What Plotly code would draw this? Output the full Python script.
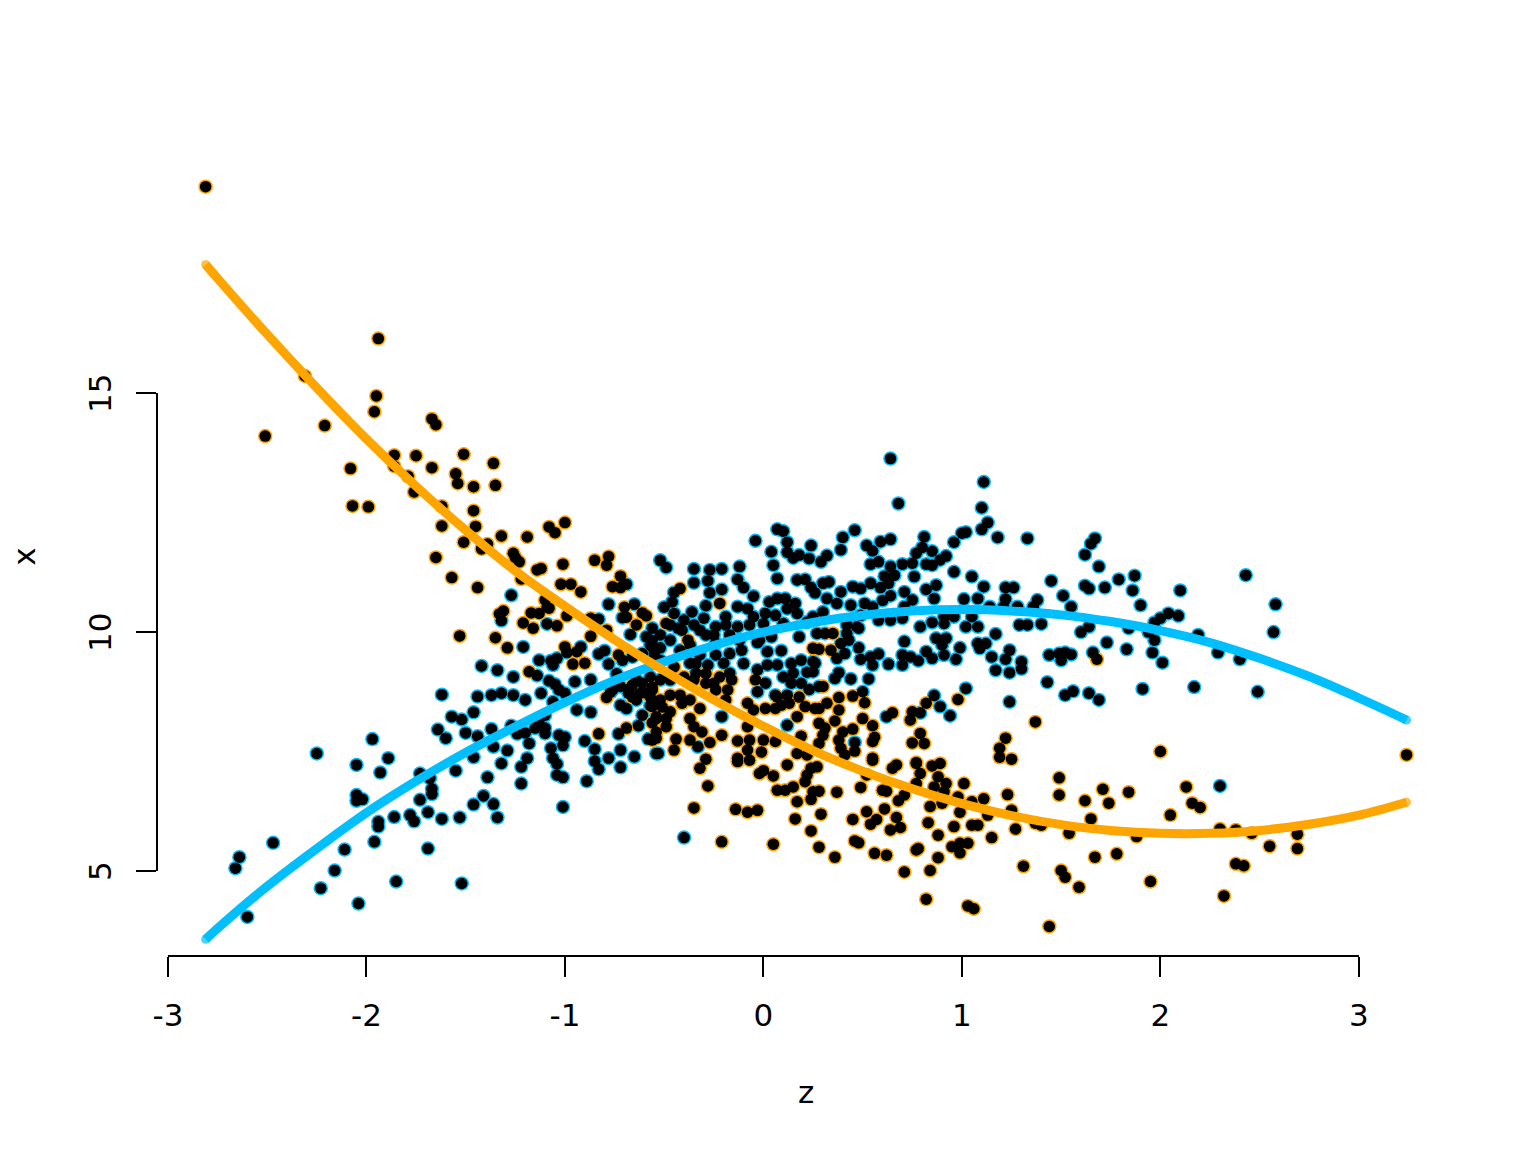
import plotly.graph_objects as go

# (z, x)
orange_pts = [
    (-2.81,19.32),(-1.94,16.14),(-2.31,15.36),(-1.95,14.94),(-1.96,14.61),(-2.51,14.10),(-2.21,14.32),(-1.67,14.46),
    (-1.65,14.34),(-1.86,13.70),(-1.75,13.69),(-1.51,13.72),(-1.86,13.47),(-1.67,13.44),(-2.08,13.42),(-1.36,13.53),
    (-1.55,13.31),(-1.54,13.11),(-1.79,13.26),(-1.46,13.04),(-1.35,13.07),(-1.76,12.93),(-2.07,12.64),(-1.99,12.62),
    (-1.62,12.63),(-1.46,12.54),(-1.62,12.22),(-1.45,12.21),(-1.32,12.01),(-1.19,11.99),(-1.51,11.88),(-1.42,11.74),
    (-1.39,11.84),(-1.65,11.56),(-1.26,11.65),(-1.25,11.56),(-1.23,11.47),(-1.08,12.20),(-1.05,12.08),(-1.00,12.29),
    (-1.57,11.14),(-1.44,10.93),(-1.22,11.11),(-1.14,11.30),(-1.12,11.33),(-1.01,11.42),(-0.85,11.50),(-0.79,11.40),
    (-0.78,11.58),(-1.02,11.00),(-0.97,11.00),(-0.92,10.84),(-0.76,10.95),(-0.72,11.17),(-0.72,10.93),(-1.10,10.67),
    (-1.09,10.52),(-1.08,10.50),(-1.17,10.40),(-1.13,10.39),(-0.99,10.34),(-0.87,10.29),(-0.70,10.52),(-0.61,10.40),
    (-0.59,10.34),(-0.69,10.31),(-0.64,10.15),(-1.31,10.44),(-1.33,10.38),(-1.21,10.19),(-1.16,10.08),(-1.04,10.13),
    (-1.53,9.92),(-1.35,9.88),(-1.29,9.67),(-0.87,9.91),(-0.79,10.04),(-1.00,9.69),(-0.94,9.59),(-0.96,9.33),
    (-0.90,9.35),(-0.73,9.52),(-1.18,9.17),(-0.79,8.63),(-0.83,7.87),(-0.69,7.99),(-0.54,7.78),(-0.42,10.91),
    (-0.22,10.60),(-0.49,10.18),(-0.38,9.83),(0.25,9.66),(-0.45,9.27),(-0.35,9.00),(-0.40,9.06),(-0.29,9.13),
    (-0.22,9.06),(-0.16,9.00),(-0.04,9.00),(-0.29,8.93),(-0.24,8.79),(-0.19,8.58),(-0.08,8.51),(-0.05,8.37),
    (0.01,8.40),(0.06,8.40),(0.09,8.47),(0.21,8.44),(0.26,8.40),(0.28,8.40),(0.17,8.23),(-0.32,8.40),
    (-0.37,8.58),(-0.42,8.68),(-0.47,8.68),(-0.52,8.58),(-0.56,8.44),(-0.47,8.33),(-0.37,8.19),(-0.35,8.02),
    (-0.49,8.19),(-0.54,8.19),(-0.49,8.02),(-0.54,7.91),(-0.56,7.74),(-0.44,7.76),(-0.45,7.53),(-0.31,7.91),
    (-0.37,7.74),(-0.27,7.69),(-0.21,7.84),(-0.08,8.02),(0.19,7.82),(-0.13,7.72),(-0.07,7.74),(0.00,7.74),
    (0.06,7.71),(-0.01,7.49),(-0.08,7.53),(-0.13,7.36),(-0.07,7.32),(-0.29,7.34),(0.12,7.22),(-0.32,7.15),
    (0.17,7.46),(0.22,7.43),(0.27,7.18),(-0.28,6.78),(-0.35,6.32),(-0.21,5.61),(-0.14,6.29),(-0.08,6.23),
    (-0.03,6.27),(-0.13,7.29),(-0.02,7.04),(0.00,7.10),(0.05,6.99),(0.07,6.69),(0.11,6.69),(0.15,6.76),
    (0.17,6.45),(0.16,6.09),(0.05,5.56),(0.24,5.84),(0.29,6.19),(0.24,6.50),(0.25,6.66),(0.28,6.67),
    (0.21,6.87),(0.22,7.01),(0.24,7.15),(0.37,6.65),(0.28,5.50),(0.36,5.29),(0.45,6.08),(0.46,5.63),
    (0.48,5.59),(0.56,5.37),(0.62,5.33),(0.52,6.24),(0.54,5.98),(0.57,6.08),(0.61,6.30),(0.67,6.12),
    (0.64,5.86),(0.69,5.91),(0.71,4.98),(0.49,6.75),(0.60,6.69),(0.62,6.67),(0.68,6.47),(0.71,6.59),
    (0.52,7.01),(0.65,7.15),(0.67,7.22),(0.77,5.44),(0.55,7.32),(0.77,6.83),(0.77,7.25),(0.28,9.64),
    (0.34,9.62),(0.35,9.97),(0.30,8.86),(0.45,8.66),(0.51,8.52),(0.38,8.63),(0.32,8.51),(0.38,8.37),
    (0.50,8.19),(0.55,8.04),(0.45,7.97),(0.36,8.14),(0.28,8.09),(0.31,7.99),(0.40,7.91),(0.38,7.74),
    (0.30,7.84),(0.28,7.67),(0.56,7.80),(0.55,7.71),(0.39,7.57),(0.46,7.51),(0.41,7.43),(0.55,7.36),
    (0.75,7.68),(0.79,7.88),(0.81,7.67),(0.77,7.27),(0.79,7.04),(0.85,7.20),(0.89,7.25),(0.88,6.97),
    (0.92,6.83),(1.01,6.83),(0.86,6.76),(1.22,7.78),(1.19,7.57),(1.19,7.38),(1.25,7.34),(1.37,8.12),
    (0.98,8.59),(0.82,8.51),(0.75,8.33),(0.74,8.16),(0.65,8.31),(1.49,6.95),(1.49,6.59),(1.71,6.71),
    (1.74,6.42),(1.62,6.47),(1.84,6.65),(2.13,6.76),(2.16,6.42),(2.20,6.33),(2.05,6.17),(1.65,6.09),
    (1.23,6.60),(1.11,6.51),(1.05,6.45),(1.25,6.27),(1.13,6.17),(0.99,6.23),(0.98,6.55),(0.90,6.42),
    (0.84,6.35),(0.91,6.66),(0.83,6.01),(0.96,5.93),(0.88,5.75),(1.05,5.96),(1.08,5.96),(1.15,5.70),
    (1.27,5.88),(1.37,6.00),(1.40,5.96),(1.54,5.79),(1.88,5.72),(2.30,5.88),(2.38,5.86),(2.46,5.79),
    (2.69,5.77),(2.69,5.47),(2.55,5.52),(2.38,5.15),(2.42,5.11),(2.32,4.48),(1.95,4.78),(1.78,5.36),
    (1.67,5.29),(1.59,4.66),(1.50,5.01),(1.52,4.87),(1.44,3.84),(1.31,5.10),(1.03,4.27),(1.06,4.21),
    (0.82,4.41),(0.84,5.01),(0.88,5.28),(0.78,5.47),(0.99,5.38),(0.95,5.51),(0.99,5.58),(1.03,5.58),
    (1.68,9.43),(2.00,7.50),(3.24,7.43),
    # dense middle
    (-0.25,8.93),(-0.18,8.79),(-0.56,8.79),(-0.41,8.51),(-0.51,8.43),(-0.56,8.10),(0.07,8.64),(0.13,8.51),
    (0.18,8.64),(-0.62,8.72),(-0.66,8.64),(-0.57,8.64),(-0.56,8.85),(-0.66,8.89),
]

blue_pts = [
    (-0.69,11.00),(-1.27,10.77),(-0.78,10.58),(-0.65,10.58),(-0.83,10.27),(-0.71,10.30),(-0.67,9.95),(-1.32,10.24),
    (-1.09,10.17),(-1.21,9.69),(-0.99,9.57),(-0.92,9.69),(-0.83,9.54),(-0.80,9.61),(-1.13,9.41),(-1.07,9.40),
    (-1.04,9.45),(-1.06,9.31),(-0.78,9.33),(-1.42,9.29),(-1.34,9.20),(-1.26,9.06),(-1.14,9.09),(-0.95,8.96),
    (-1.08,8.98),(-1.05,8.91),(-1.03,8.79),(-1.00,8.72),(-0.87,9.00),(-1.62,8.69),(-1.44,8.65),(-1.37,8.68),
    (-1.32,8.72),(-1.26,8.68),(-1.20,8.58),(-1.12,8.72),(-1.06,8.54),(-0.94,8.37),(-0.87,8.32),(-1.46,8.32),
    (-1.57,8.23),(-1.52,8.17),(-1.64,7.96),(-1.60,7.78),(-1.50,7.89),(-1.44,7.82),(-1.37,7.97),(-1.27,8.04),
    (-1.24,7.87),(-1.20,7.89),(-1.15,7.99),(-1.13,8.09),(-1.10,8.26),(-1.10,7.99),(-1.10,7.88),(-1.18,7.67),
    (-1.36,7.60),(-1.29,7.52),(-1.46,7.38),(-1.32,7.25),(-1.19,7.36),(-1.22,7.18),(-1.55,7.10),(-1.39,6.96),
    (-1.22,6.83),(-1.41,6.57),(-1.46,6.39),(-1.36,6.40),(-1.34,6.12),(-1.62,6.09),(-1.53,6.12),(-1.01,6.34),
    (-0.89,6.88),(-1.04,7.01),(-1.01,6.96),(-1.06,7.36),(-1.04,7.24),(-1.07,7.57),(-1.03,7.84),(-1.00,7.80),
    (-1.01,7.63),(-0.90,7.72),(-0.85,7.55),(-0.85,7.30),(-0.83,7.13),(-0.78,7.36),(-0.72,7.53),(-0.72,7.17),
    (-0.65,7.39),(-0.73,7.87),(-0.63,8.04),(-0.58,7.76),(-0.54,7.46),(-0.72,8.47),(-0.69,8.40),(-0.64,8.58),
    (-0.68,8.72),(-0.61,8.26),(-0.57,8.46),(-0.54,8.23),(-0.59,8.72),(-0.61,8.93),(-0.57,9.06),(-0.64,9.00),
    (-0.67,8.83),(-0.76,8.79),(-0.72,8.86),(-0.74,9.13),(-2.60,4.04),(-2.66,5.06),(-2.64,5.29),(-2.47,5.59),
    (-2.25,7.46),(-2.23,4.64),(-2.16,5.01),(-2.11,5.45),(-2.04,4.32),(-2.05,7.22),(-1.97,7.76),(-1.89,7.36),
    (-1.93,7.06),(-2.05,6.59),(-2.05,6.47),(-2.02,6.50),(-1.94,6.03),(-1.94,5.93),(-1.96,5.61),(-1.85,4.78),
    (-1.52,4.74),(-1.69,5.47),(-1.86,6.13),(-1.78,6.17),(-1.76,6.04),(-1.69,6.23),(-1.73,6.49),(-1.67,6.72),
    (-1.67,6.61),(-1.73,7.04),(-1.68,6.94),(-0.52,11.50),(-0.49,11.35),(-0.35,11.32),(-0.27,11.30),(-0.21,11.32),
    (-0.12,11.37),(-0.04,11.91),(0.07,12.15),(0.10,12.11),(0.12,11.88),(0.04,11.68),(0.24,11.81),(0.12,11.67),
    (0.15,11.55),(0.18,11.61),(0.23,11.54),(0.05,11.40),(0.07,11.12),(0.17,11.09),(0.21,11.10),(0.24,10.93),
    (0.26,10.82),(-0.35,11.03),(-0.28,11.07),(-0.27,10.82),(-0.21,10.89),(-0.13,11.10),(-0.10,10.93),(-0.05,10.75),
    (-0.45,10.83),(-0.46,10.63),(-0.50,10.52),(-0.36,10.42),(-0.29,10.55),(-0.13,10.53),(-0.08,10.49),(0.03,10.63),
    (0.07,10.70),(0.11,10.70),(0.16,10.60),(0.01,10.39),(0.06,10.35),(0.12,10.49),(0.17,10.39),(-0.40,10.25),
    (-0.45,10.39),(-0.30,10.29),(-0.19,10.32),(-0.05,10.32),(-0.56,10.08),(-0.43,10.08),(-0.32,10.04),(-0.24,10.11),
    (-0.13,10.11),(0.00,10.18),(0.10,10.18),(0.22,10.21),(-0.52,9.94),(-0.47,9.83),(-0.56,9.83),(-0.25,9.94),
    (-0.17,9.94),(-0.03,9.78),(0.04,9.90),(0.18,9.90),(0.02,9.59),(0.09,9.61),(0.19,9.41),(0.25,9.38),
    (0.14,9.34),(0.02,9.31),(0.07,9.31),(-0.11,9.62),(-0.10,9.34),(-0.03,9.21),(-0.34,9.34),(-0.24,9.52),
    (-0.17,9.55),(-0.55,9.55),(0.10,9.06),(0.14,8.93),(0.23,8.80),(0.19,8.93),(0.01,8.93),(-0.03,8.75),
    (0.06,8.68),(0.12,8.68),(0.28,8.86),(-0.21,8.23),(0.12,8.05),(-0.53,7.46),(-0.33,7.60),(-0.40,5.70),
    (0.64,13.63),(0.68,12.69),(1.11,13.14),(1.10,12.60),(1.13,12.29),(1.10,12.15),(1.02,12.09),(1.00,12.07),
    (1.18,11.98),(1.33,11.96),(0.96,11.88),(0.81,11.99),(0.64,11.94),(0.59,11.89),(0.46,12.13),(0.40,11.98),
    (0.39,11.72),(0.32,11.60),(0.29,11.47),(0.52,11.81),(0.55,11.70),(0.80,11.77),(0.77,11.65),(0.85,11.69),
    (0.54,11.42),(0.58,11.47),(0.64,11.37),(0.70,11.42),(0.75,11.44),(0.82,11.42),(0.85,11.40),(0.92,11.59),
    (0.89,11.51),(0.96,11.26),(1.05,11.16),(0.76,11.16),(0.61,11.17),(0.66,11.19),(0.63,11.02),(0.54,11.02),
    (1.11,10.95),(1.22,10.93),(1.26,10.93),(0.82,10.89),(0.87,10.98),(0.86,10.70),(0.71,10.84),(0.75,10.67),
    (0.64,10.76),(0.60,10.66),(0.59,10.93),(1.01,10.69),(1.08,10.70),(1.22,10.69),(1.38,10.67),(1.14,10.53),
    (1.28,10.53),(1.36,10.53),(1.21,10.53),(0.45,10.95),(0.49,10.91),(0.33,11.05),(0.30,11.02),(0.39,10.84),
    (0.32,10.70),(0.44,10.56),(0.37,10.60),(0.51,10.60),(0.55,10.53),(0.30,10.42),(0.71,10.53),(0.25,10.32),
    (0.49,10.35),(0.58,10.25),(0.64,10.25),(0.70,10.29),(0.91,10.32),(0.96,10.32),(1.05,10.32),(0.42,10.15),
    (0.47,10.11),(0.79,10.11),(0.85,10.20),(0.91,10.18),(1.02,10.11),(1.08,10.11),(1.29,10.15),(1.33,10.15),
    (0.27,9.97),(0.31,9.97),(0.42,9.97),(0.48,10.08),(0.37,9.45),(0.41,9.55),(0.39,9.76),(0.43,9.83),
    (0.48,9.67),(0.49,9.43),(0.54,9.48),(0.58,9.54),(0.55,9.31),(0.63,9.33),(0.71,9.80),(0.70,9.52),
    (0.70,9.31),(0.74,9.48),(0.78,9.40),(0.82,9.59),(0.85,9.45),(0.87,9.87),(0.92,9.87),(0.90,9.73),
    (0.91,9.52),(0.97,9.43),(0.99,9.67),(1.08,9.76),(1.09,9.66),(1.12,9.76),(1.17,9.96),(1.15,9.48),
    (1.24,9.62),(1.22,9.43),(1.17,9.20),(1.24,9.15),(1.30,9.38),(1.30,9.23),(0.26,9.35),(0.25,9.17),
    (0.38,9.15),(0.36,9.03),(0.44,9.02),(0.53,9.02),(0.50,8.75),(0.46,7.69),(1.02,8.82),(0.86,8.67),
    (0.89,8.44),(0.94,8.25),(0.79,8.31),(0.62,8.23),(1.24,8.54),(2.30,6.78),(1.67,11.96),(1.65,11.85),
    (1.62,11.62),(1.69,11.37),(1.45,11.07),(1.62,10.97),(1.64,10.91),(1.72,10.93),(1.79,11.10),(1.87,11.18),
    (1.86,10.87),(1.90,10.56),(2.10,10.87),(2.43,11.19),(2.58,10.58),(2.57,10.00),(1.51,10.76),(1.55,10.53),
    (1.40,10.17),(1.64,10.11),(1.60,10.00),(1.73,9.78),(1.84,10.08),(1.94,10.00),(1.97,10.20),(2.00,10.29),
    (2.04,10.39),(2.09,10.34),(1.97,9.83),(1.96,9.57),(2.01,9.36),(1.83,9.64),(2.19,9.94),(2.29,9.57),
    (2.40,9.43),(2.17,8.85),(2.49,8.75),(1.91,8.81),(1.66,9.57),(1.44,9.52),(1.49,9.55),(1.52,9.57),
    (1.55,9.53),(1.50,9.41),(1.43,8.95),(1.52,8.68),(1.56,8.76),(1.64,8.72),(1.69,8.58),
    # dense middle
    (-0.41,10.04),(-0.35,10.15),(-0.29,9.94),(-0.24,9.77),(-0.19,10.15),(-0.12,9.83),(-0.07,10.15),(-0.02,9.83),
    (-0.37,9.73),(-0.32,9.52),(-0.47,10.15),(-0.52,9.67),(-0.57,9.73),(-0.42,9.62),(-0.37,9.35),(-0.28,9.31),
    (-0.20,9.35),(-0.17,9.14),(-0.52,9.41),(-0.52,9.00),(-0.47,9.00),(-0.34,9.14),(0.15,9.14),(0.22,9.16),
    (-0.59,9.90),(-0.56,9.69),(-0.61,9.55),(-0.66,9.48),(-0.71,9.41),(-0.56,9.41),(-0.77,8.74),
]

blue_curve_z = [-2.81,-2.75,-2.5,-2.25,-2.0,-1.75,-1.5,-1.25,-1.0,-0.75,-0.5,-0.25,0,0.25,0.5,0.75,1.0,1.25,1.5,1.75,2.0,2.25,2.5,2.75,3.0,3.24]
blue_curve_x = [3.57,3.80,4.68,5.47,6.22,6.88,7.48,8.02,8.53,8.99,9.38,9.72,10.00,10.20,10.35,10.44,10.47,10.44,10.36,10.22,10.03,9.78,9.45,9.07,8.62,8.16]
orange_curve_z = [-2.81,-2.75,-2.5,-2.25,-2.0,-1.75,-1.5,-1.25,-1.0,-0.75,-0.5,-0.25,0,0.25,0.5,0.75,1.0,1.25,1.5,1.75,2.0,2.25,2.5,2.75,3.0,3.24]
orange_curve_x = [17.69,17.40,16.23,15.11,14.04,13.05,12.13,11.28,10.54,9.84,9.19,8.58,8.03,7.52,7.09,6.72,6.41,6.16,5.97,5.85,5.79,5.79,5.85,5.98,6.17,6.44]

x_ticks = [-3,-2,-1,0,1,2,3]
x_tick_text = ["-3","-2","-1","0","1","2","3"]
y_ticks = [5,10,15]

BLUE = "#00BFFF"
ORANGE = "#FFA500"
FONT = "DejaVu Sans"

fig = go.Figure()

# colored dots first, black ones over the top of both groups
for pts, color in [(blue_pts, BLUE), (orange_pts, ORANGE)]:
    fig.add_trace(go.Scatter(
        x=[p[0] for p in pts], y=[p[1] for p in pts], mode="markers",
        marker=dict(size=14.5, color=color, line=dict(width=0)), showlegend=False
    ))
all_pts = blue_pts + orange_pts
fig.add_trace(go.Scatter(
    x=[p[0] for p in all_pts], y=[p[1] for p in all_pts], mode="markers",
    marker=dict(size=11.5, color="black", line=dict(width=0)), showlegend=False
))

for cz, cx, color in [(blue_curve_z, blue_curve_x, BLUE), (orange_curve_z, orange_curve_x, ORANGE)]:
    ends = [9 if i in (0, len(cz) - 1) else 0 for i in range(len(cz))]
    fig.add_trace(go.Scatter(
        x=cz, y=cx, mode="lines+markers",
        line=dict(color=color, width=9, shape="spline", smoothing=1.0),
        marker=dict(size=ends, color=color, line=dict(width=0)), showlegend=False
    ))

y_labels = [dict(text=str(v), xref="paper", yref="y", x=-0.044, y=v, showarrow=False, textangle=-90, xanchor="center")
            for v in y_ticks]

fig.update_layout(
    width=1536, height=1152,
    margin=dict(l=157, r=81, t=157, b=196, autoexpand=False),
    paper_bgcolor="white", plot_bgcolor="white",
    font=dict(family=FONT, size=31, color="black"),
    xaxis=dict(
        range=[-3.055, 3.484], tickvals=x_ticks, ticktext=x_tick_text, ticks="outside", ticklen=20, tickwidth=2,
        tickcolor="black", showgrid=False, zeroline=False, showline=False, ticklabelstandoff=12
    ),
    yaxis=dict(
        range=[3.222, 19.94], tickvals=y_ticks, ticks="outside", ticklen=20, tickwidth=2,
        tickcolor="black", showgrid=False, zeroline=False, showline=False, showticklabels=False
    ),
    shapes=[
        dict(type="line", xref="x", yref="paper", x0=-3, x1=3, y0=0, y1=0, line=dict(color="black", width=2)),
        dict(type="line", xref="paper", yref="y", x0=0, x1=0, y0=5, y1=15, line=dict(color="black", width=2)),
    ],
    annotations=y_labels + [
        dict(text="z", xref="paper", yref="paper", x=0.5, y=-0.17, showarrow=False, yanchor="middle"),
        dict(text="x", xref="paper", yref="paper", x=-0.103, y=0.5, showarrow=False, textangle=-90, xanchor="center"),
    ],
)

fig.write_html("out.html", post_script="document.body.style.margin='0';", config=dict(displayModeBar=False))
